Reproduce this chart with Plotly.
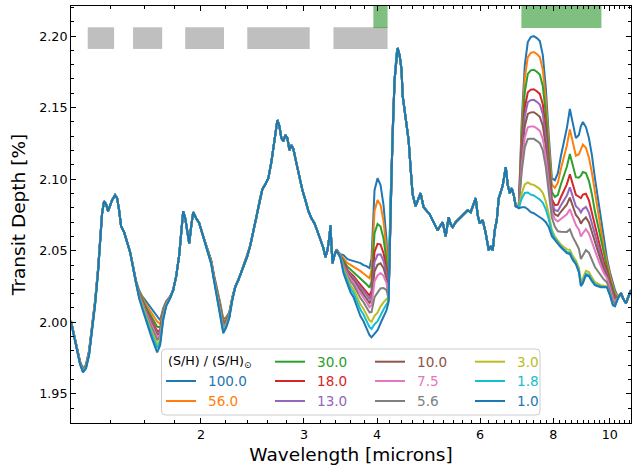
import numpy as np
import plotly.graph_objects as go

# ---------------- data ----------------
# common wavelength grid [microns]
wavelength = [
    1.1993, 1.2136, 1.2280, 1.2427, 1.2574, 1.2724, 1.2876, 1.3029, 1.3184, 1.3341,
    1.3446, 1.3553, 1.3660, 1.3768, 1.3877, 1.3987, 1.4098, 1.4265, 1.4379, 1.4492,
    1.4607, 1.4781, 1.4957, 1.5135, 1.5314, 1.5497, 1.5681, 1.5868, 1.6057, 1.6248,
    1.6441, 1.6636, 1.6834, 1.7035, 1.7237, 1.7443, 1.7720, 1.7930, 1.8144, 1.8360,
    1.8505, 1.8651, 1.8799, 1.8948, 1.9098, 1.9249, 1.9401, 1.9632, 1.9866, 2.0102,
    2.0341, 2.0584, 2.0828, 2.1076, 2.1327, 2.1581, 2.1837, 2.2097, 2.2360, 2.2626,
    2.2895, 2.3168, 2.3443, 2.3723, 2.4005, 2.4290, 2.4579, 2.4872, 2.5168, 2.5467,
    2.5770, 2.6077, 2.6387, 2.6595, 2.6806, 2.7019, 2.7233, 2.7448, 2.7665, 2.7884,
    2.8105, 2.8328, 2.8552, 2.8777, 2.9120, 2.9467, 2.9817, 3.0172, 3.0531, 3.0894,
    3.1262, 3.1634, 3.2010, 3.2390, 3.2647, 3.2906, 3.3166, 3.3297, 3.3429, 3.3560,
    3.3826, 3.4094, 3.4364, 3.4636, 3.5048, 3.5606, 3.6029, 3.6457, 3.7037, 3.7478,
    3.7923, 3.8375, 3.8832, 3.9139, 3.9604, 4.0076, 4.0552, 4.1034, 4.1523, 4.1852,
    4.2183, 4.2517, 4.2854, 4.3193, 4.3364, 4.3707, 4.4053, 4.4226, 4.4930, 4.5286,
    4.5644, 4.6005, 4.6553, 4.6921, 4.7479, 4.8043, 4.8616, 4.9195, 4.9779, 5.0372,
    5.0771, 5.1374, 5.1781, 5.2397, 5.3021, 5.3440, 5.3863, 5.4504, 5.5153, 5.5809,
    5.6473, 5.7145, 5.7825, 5.8282, 5.8976, 5.9443, 5.9914, 6.0626, 6.1348, 6.2078,
    6.2569, 6.3064, 6.3564, 6.4067, 6.4574, 6.5085, 6.5600, 6.6381, 6.6907, 6.7436,
    6.7969, 6.8506, 6.9050, 6.9872, 7.0703, 7.1544, 7.2396, 7.3256, 7.4127, 7.5010,
    7.5903, 7.6805, 7.7719, 7.8644, 7.9580, 8.0527, 8.1485, 8.2454, 8.3434, 8.4428,
    8.5433, 8.6448, 8.7477, 8.8519, 8.9219, 8.9924, 9.0995, 9.2078, 9.3173, 9.4282,
    9.5404, 9.6538, 9.7685, 9.8849, 10.0026, 10.1226, 10.2029, 10.3243, 10.4471, 10.5297,
    10.6551, 10.7395, 10.8672,
]

# transit depth [%] of the 1x solar S/H model (lowest curve)
depth_1x = [
    2.0000, 1.9895, 1.9790, 1.9706, 1.9650, 1.9678, 1.9769, 1.9930, 2.0119, 2.0350,
    2.0552, 2.0755, 2.0846, 2.0825, 2.0776, 2.0811, 2.0853, 2.0888, 2.0867, 2.0783,
    2.0671, 2.0629, 2.0559, 2.0490, 2.0378, 2.0259, 2.0168, 2.0098, 2.0028, 1.9965,
    1.9902, 1.9846, 1.9790, 1.9839, 2.0014, 2.0112, 2.0168, 2.0224, 2.0322, 2.0469,
    2.0629, 2.0776, 2.0727, 2.0650, 2.0552, 2.0671, 2.0769, 2.0727, 2.0692, 2.0622,
    2.0552, 2.0490, 2.0406, 2.0280, 2.0168, 2.0049, 1.9923, 1.9965, 2.0028, 2.0154,
    2.0245, 2.0294, 2.0350, 2.0413, 2.0462, 2.0538, 2.0636, 2.0727, 2.0846, 2.0930,
    2.0965, 2.1007, 2.1119, 2.1217, 2.1343, 2.1413, 2.1371, 2.1287, 2.1266, 2.1308,
    2.1287, 2.1203, 2.1238, 2.1210, 2.1112, 2.1007, 2.0923, 2.0853, 2.0776, 2.0727,
    2.0692, 2.0636, 2.0573, 2.0517, 2.0455, 2.0503, 2.0601, 2.0678, 2.0538, 2.0413,
    2.0469, 2.0503, 2.0476, 2.0448, 2.0343, 2.0259, 2.0210, 2.0175, 2.0098, 2.0042,
    2.0007, 1.9958, 1.9909, 1.9895, 1.9923, 1.9944, 1.9993, 2.0035, 2.0084, 2.0140,
    2.0853, 2.1308, 2.1692, 2.1874, 2.1916, 2.1867, 2.1762, 2.1587, 2.1378, 2.1273,
    2.1077, 2.0895, 2.0811, 2.0853, 2.0902, 2.0804, 2.0783, 2.0755, 2.0713, 2.0671,
    2.0643, 2.0678, 2.0699, 2.0601, 2.0734, 2.0685, 2.0664, 2.0699, 2.0720, 2.0741,
    2.0755, 2.0783, 2.0769, 2.0804, 2.0867, 2.0748, 2.0692, 2.0713, 2.0622, 2.0503,
    2.0531, 2.0503, 2.0643, 2.0713, 2.0867, 2.0909, 2.0958, 2.1084, 2.0958, 2.0902,
    2.0937, 2.0888, 2.0811, 2.0797, 2.0804, 2.0804, 2.0790, 2.0769, 2.0762, 2.0748,
    2.0734, 2.0720, 2.0699, 2.0664, 2.0601, 2.0573, 2.0552, 2.0524, 2.0503, 2.0483,
    2.0476, 2.0434, 2.0406, 2.0350, 2.0252, 2.0273, 2.0329, 2.0322, 2.0287, 2.0259,
    2.0252, 2.0245, 2.0245, 2.0245, 2.0189, 2.0119, 2.0112, 2.0168, 2.0203, 2.0168,
    2.0133, 2.0175, 2.0224,
]

# extra depth of the 100x model over the 1x model in the "continuum" windows
cont_wl = [1.1993, 1.2136, 1.2280, 1.2427, 1.2574, 1.2724, 1.2876, 1.3029, 1.3184, 1.3341,
           1.3446, 1.3553,
           1.5314, 1.5497, 1.5681, 1.5868, 1.6057, 1.6248, 1.6441, 1.6636, 1.6834, 1.7035,
           1.7237, 1.7443, 1.7720,
           2.0341, 2.0584, 2.0828, 2.1076, 2.1327, 2.1581, 2.1837, 2.2097, 2.2360, 2.2626,
           2.2895,
           3.4094, 3.4364, 3.4636, 3.5048, 3.5606, 3.6029, 3.6457, 3.7037, 3.7478, 3.7923,
           3.8375, 3.8832, 3.9139, 3.9604, 4.0076, 4.0552, 4.1034, 4.1523, 4.1852]
cont_dy = [0.0010, 0.0014, 0.0018, 0.0021, 0.0025, 0.0028, 0.0032, 0.0035, 0.0032, 0.0025,
           0.0018, 0.0010,
           0.0014, 0.0028, 0.0056, 0.0084, 0.0126, 0.0161, 0.0196, 0.0224, 0.0252, 0.0175,
           0.0084, 0.0035, 0.0014,
           0.0007, 0.0014, 0.0028, 0.0042, 0.0063, 0.0084, 0.0098, 0.0070, 0.0042, 0.0021,
           0.0007,
           0.0007, 0.0014, 0.0028, 0.0126, 0.0182, 0.0224, 0.0252, 0.0322, 0.0371, 0.0392,
           0.0434, 0.0469, 0.0483, 0.0483, 0.0483, 0.0469, 0.0420, 0.0336, 0.0070]

# extra depth of the 100x model in the SO2 bands near 4.0 and 8.7 microns
so2_wl = [3.9139, 3.9604, 4.0076, 4.0552, 4.1034, 4.1523, 4.1852,
          7.7719, 7.8644, 7.9580, 8.0527, 8.1485, 8.2454, 8.3434, 8.4428, 8.5433, 8.6448,
          8.7477, 8.8519, 8.9219, 8.9924, 9.0995, 9.2078, 9.3173, 9.4282, 9.5404, 9.6538,
          9.7685, 9.8849, 10.0026, 10.1226, 10.2029, 10.3243]
so2_dy = [0.0070, 0.0517, 0.0580, 0.0497, 0.0364, 0.0154, 0.0014,
          0.0035, 0.0105, 0.0161, 0.0322, 0.0490, 0.0636, 0.0755, 0.0874, 0.1014, 0.0944,
          0.0881, 0.0958, 0.1119, 0.1126, 0.1035, 0.0965, 0.0881, 0.0748, 0.0615, 0.0469,
          0.0315, 0.0203, 0.0161, 0.0154, 0.0112, 0.0007]

# extra depth of the 100x model in the SO2 band near 7.4 microns
b74_wl = [6.9872, 7.0703, 7.1544, 7.2396, 7.3256, 7.4127, 7.5010, 7.5903, 7.6805, 7.7719,
          7.8644, 7.9580, 8.0527]
b74_dy = [0.0014, 0.0608, 0.0993, 0.1168, 0.1224, 0.1238, 0.1238, 0.1231, 0.1147, 0.0902,
          0.0531, 0.0245, 0.0098]

# series: S/H enrichment relative to solar
labels = ['100.0', '56.0', '30.0', '18.0', '13.0', '10.0', '7.5', '5.6', '3.0', '1.8', '1.0']
colors = ['#1f77b4', '#ff7f0e', '#2ca02c', '#d62728', '#9467bd', '#8c564b',
          '#e377c2', '#7f7f7f', '#bcbd22', '#17becf', '#1f77b4']
# relative band strengths of each model
amp_cont = [1.00, 0.85, 0.71, 0.59, 0.54, 0.48, 0.42, 0.34, 0.22, 0.12, 0.00]
amp_so2 = [1.00, 0.86, 0.69, 0.55, 0.46, 0.39, 0.31, 0.17, 0.03, 0.01, 0.00]
amp_74 = [1.00, 0.91, 0.81, 0.70, 0.64, 0.57, 0.49, 0.42, 0.16, 0.10, 0.00]

# shaded wavelength bands at the top [microns]
gray_bands = [[1.281, 1.421], [1.531, 1.717], [1.880, 2.190], [2.400, 3.069], [3.369, 4.169]]
green_bands = [[3.942, 4.169], [7.059, 9.673]]
gray_y = [2.1910, 2.2061]
green_y = [2.2056, 2.2400]

x_ticks = [2, 3, 4, 6, 8, 10]
x_ticktext = ['2', '3', '4', '6', '8', '10']
x_minor = [round(v, 1) for v in np.arange(1.4, 10.81, 0.2) if round(v, 1) not in x_ticks]

# ---------------- build ----------------
index = {round(w, 4): i for i, w in enumerate(wavelength)}


def profile(wl, dy):
    arr = np.zeros(len(wavelength))
    for w, d in zip(wl, dy):
        arr[index[round(w, 4)]] += d
    return arr


base = np.array(depth_1x)
p_cont = profile(cont_wl, cont_dy)
p_so2 = profile(so2_wl, so2_dy)
p_74 = profile(b74_wl, b74_dy)

fig = go.Figure()

for a, b in gray_bands:
    fig.add_trace(go.Scatter(x=[a, b, b, a, a], y=[gray_y[0], gray_y[0], gray_y[1], gray_y[1], gray_y[0]],
                             mode='none', fill='toself', fillcolor='rgba(128,128,128,0.5)',
                             showlegend=False, hoverinfo='skip'))
for a, b in green_bands:
    fig.add_trace(go.Scatter(x=[a, b, b, a, a], y=[green_y[0], green_y[0], green_y[1], green_y[1], green_y[0]],
                             mode='none', fill='toself', fillcolor='rgba(0,128,0,0.5)',
                             showlegend=False, hoverinfo='skip'))

for i, lab in enumerate(labels):
    y = base + amp_cont[i] * p_cont + amp_so2[i] * p_so2 + amp_74[i] * p_74
    fig.add_trace(go.Scatter(x=wavelength, y=y, mode='lines', name=lab,
                             line=dict(color=colors[i], width=2), showlegend=False))

# ---------------- layout ----------------
L, R, T, B = 71, 631, 6, 423
W, H = 632, 466


def px_x(px):
    return (px - L) / (R - L)


def px_y(py):
    return (B - py) / (B - T)


shapes = []
annotations = []

# legend frame (rounded)
x0, x1, y0, y1 = px_x(161.5), px_x(540), px_y(415), px_y(349)
rx, ry = 4 / (R - L), 4 / (B - T)
path = (f"M {x0+rx},{y0} L {x1-rx},{y0} Q {x1},{y0} {x1},{y0+ry} L {x1},{y1-ry} "
        f"Q {x1},{y1} {x1-rx},{y1} L {x0+rx},{y1} Q {x0},{y1} {x0},{y1-ry} "
        f"L {x0},{y0+ry} Q {x0},{y0} {x0+rx},{y0} Z")
shapes.append(dict(type='path', path=path, xref='paper', yref='paper', layer='above',
                   fillcolor='rgba(255,255,255,0.8)', line=dict(color='#cccccc', width=1)))

col_x = [166, 275, 375, 475]
row_y = [361.7, 381, 401]
annotations.append(dict(text='(S/H) / (S/H)<sub>⊙</sub>', x=px_x(166), y=px_y(row_y[0]),
                        xref='paper', yref='paper', xanchor='left', yanchor='middle',
                        showarrow=False, font=dict(family='DejaVu Sans', size=12.7, color='black')))
for i, lab in enumerate(labels):
    slot = i + 1
    c, r = slot // 3, slot % 3
    hx, hy = col_x[c], row_y[r]
    shapes.append(dict(type='line', xref='paper', yref='paper', layer='above',
                       x0=px_x(hx), x1=px_x(hx + 30), y0=px_y(hy), y1=px_y(hy),
                       line=dict(color=colors[i], width=2)))
    annotations.append(dict(text=lab, x=px_x(hx + 40), y=px_y(hy), xref='paper', yref='paper',
                            xanchor='left', yanchor='middle', showarrow=False,
                            font=dict(family='DejaVu Sans', size=13.6, color=colors[i])))

axis_common = dict(showline=True, linecolor='black', linewidth=1, mirror='ticks',
                   ticks='inside', ticklen=5, tickwidth=1, tickcolor='black',
                   showgrid=False, zeroline=False, automargin=False,
                   tickfont=dict(family='DejaVu Sans', size=12.7, color='black'))

fig.update_layout(
    width=W, height=H,
    margin=dict(l=L, r=W - R, t=T, b=H - B),
    paper_bgcolor='white', plot_bgcolor='white',
    showlegend=False,
    font=dict(family='DejaVu Sans', color='black'),
    shapes=shapes, annotations=annotations,
    xaxis=dict(type='log', range=[np.log10(1.1993), np.log10(10.867)],
               tickmode='array', tickvals=x_ticks, ticktext=x_ticktext,
               minor=dict(tickmode='array', tickvals=x_minor, ticks='inside', ticklen=3,
                          tickcolor='black', tickwidth=1),
               title=dict(text='Wavelength [microns]', font=dict(family='DejaVu Sans', size=18.5),
                          standoff=6),
               **axis_common),
    yaxis=dict(range=[1.9296, 2.2210], tickmode='linear', tick0=1.95, dtick=0.05,
               tickformat='.2f',
               minor=dict(tickmode='linear', tick0=1.93, dtick=0.01, ticks='inside', ticklen=3,
                          tickcolor='black', tickwidth=1),
               title=dict(text='Transit Depth [%]', font=dict(family='DejaVu Sans', size=18.5),
                          standoff=8),
               **axis_common),
)

fig.write_html("out.html", config={'displayModeBar': False},
               post_script="document.body.style.margin='0';document.body.style.overflow='hidden';")
